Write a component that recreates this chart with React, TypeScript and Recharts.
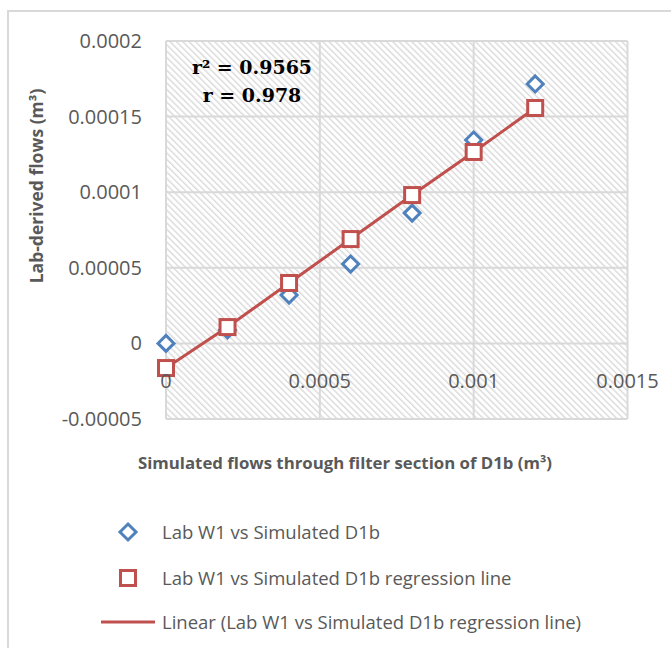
import React from 'react';
import { ScatterChart, Scatter, XAxis, YAxis, CartesianGrid } from 'recharts';

// ---- data ----
const simulatedFlows = [0, 0.0002, 0.0004, 0.0006, 0.0008, 0.001, 0.0012];
const labFlows = [0, 0.0000089, 0.000032, 0.0000525, 0.0000862, 0.0001345, 0.0001716];
const regressionFlows = [-0.0000163, 0.0000108, 0.00003995, 0.000069, 0.0000981, 0.0001266, 0.0001557];
const xTicks = [0, 0.0005, 0.001, 0.0015];
const xTickLabels = ['0', '0.0005', '0.001', '0.0015'];
const yTicks = [-0.00005, 0, 0.00005, 0.0001, 0.00015, 0.0002];
const yTickLabels = ['-0.00005', '0', '0.00005', '0.0001', '0.00015', '0.0002'];
const seriesNames = [
  'Lab W1 vs Simulated D1b',
  'Lab W1 vs Simulated D1b regression line',
  'Linear (Lab W1 vs Simulated D1b regression line)',
];
const xTitle = 'Simulated flows through filter section of D1b (m³)';
const yTitle = 'Lab-derived flows (m³)';
const statLines = ['r² = 0.9565', 'r = 0.978'];

// ---- layout ----
const W = 671;
const H = 648;
const PLOT_LEFT = 166;
const PLOT_TOP = 41;
const PLOT_RIGHT = 627.5;
const PLOT_BOTTOM = 419;
const X_DOMAIN: [number, number] = [0, 0.0015];
const Y_DOMAIN: [number, number] = [-0.00005, 0.0002];
const BLUE = '#4F81BD';
const RED = '#C0504D';
const GRID = '#d9d9d9';
const TEXT = '#595959';
const SANS = '"Open Sans", sans-serif';

const labData = simulatedFlows.map((x, i) => ({ x, y: labFlows[i] }));
const regData = simulatedFlows.map((x, i) => ({ x, y: regressionFlows[i] }));

const zeroY =
  PLOT_TOP + ((PLOT_BOTTOM - PLOT_TOP) * (Y_DOMAIN[1] - 0)) / (Y_DOMAIN[1] - Y_DOMAIN[0]);

const Diamond = (props: any) => {
  const { cx, cy } = props;
  const r = 8;
  return (
    <path
      d={`M${cx},${cy - r} L${cx + r},${cy} L${cx},${cy + r} L${cx - r},${cy} Z`}
      fill="#fff"
      stroke={BLUE}
      strokeWidth={3}
    />
  );
};

const Square = (props: any) => {
  const { cx, cy } = props;
  const s = 15;
  return <rect x={cx - s / 2} y={cy - s / 2} width={s} height={s} fill="#fff" stroke={RED} strokeWidth={3} />;
};

const XTick = (props: any) => {
  const { x, payload, index } = props;
  const i = xTicks.indexOf(payload.value);
  return (
    <text x={x} y={zeroY + 45} textAnchor="middle" fill={TEXT} fontSize={20} fontFamily={SANS}>
      {xTickLabels[i >= 0 ? i : index]}
    </text>
  );
};

const YTick = (props: any) => {
  const { y, payload, index } = props;
  const i = yTicks.indexOf(payload.value);
  return (
    <text x={PLOT_LEFT - 24} y={y + 7} textAnchor="end" fill={TEXT} fontSize={20} fontFamily={SANS}>
      {yTickLabels[i >= 0 ? i : index]}
    </text>
  );
};

export default function App() {
  return (
    <div style={{ position: 'absolute', left: 0, top: 0, width: W, height: H, background: '#fff', overflow: 'hidden' }}>
      <svg width={0} height={0} style={{ position: 'absolute' }}>
        <defs>
          <pattern id="hatch" patternUnits="userSpaceOnUse" width={4.5} height={4.5} patternTransform="rotate(-45)">
            <rect x={0} y={0} width={4.5} height={4.5} fill="#ffffff" />
            <rect x={0} y={0} width={1.4} height={4.5} fill="#dadada" />
          </pattern>
        </defs>
      </svg>
      {/* outer chart border */}
      <div
        style={{
          position: 'absolute',
          left: 7,
          top: 10,
          width: W,
          height: H,
          borderLeft: `2px solid ${GRID}`,
          borderTop: `2px solid ${GRID}`,
        }}
      />
      <div style={{ position: 'absolute', left: 0, top: 0 }}>
        <ScatterChart
          width={W}
          height={H}
          margin={{ top: PLOT_TOP, right: W - PLOT_RIGHT, bottom: 0, left: 0 }}
        >
          <CartesianGrid stroke={GRID} strokeWidth={2} fill="url(#hatch)" fillOpacity={1} />
          <XAxis
            type="number"
            dataKey="x"
            domain={X_DOMAIN}
            ticks={xTicks}
            axisLine={false}
            tickLine={false}
            tick={<XTick />}
            height={H - PLOT_BOTTOM}
          />
          <YAxis
            type="number"
            dataKey="y"
            domain={Y_DOMAIN}
            ticks={yTicks}
            axisLine={false}
            tickLine={false}
            tick={<YTick />}
            width={PLOT_LEFT}
          />
          <Scatter name={seriesNames[0]} data={labData} shape={<Diamond />} isAnimationActive={false} />
          <Scatter
            name={seriesNames[1]}
            data={regData}
            shape={<Square />}
            line={{ stroke: RED, strokeWidth: 3 }}
            lineType="joint"
            isAnimationActive={false}
          />
        </ScatterChart>
      </div>
      {/* overlay texts */}
      <svg width={W} height={H} style={{ position: 'absolute', left: 0, top: 0, pointerEvents: 'none' }}>
        <text x={252} y={74} textAnchor="middle" fontFamily='"DejaVu Serif", serif' fontWeight="bold" fontSize={19} fill="#000">
          {statLines[0]}
        </text>
        <text x={252} y={102} textAnchor="middle" fontFamily='"DejaVu Serif", serif' fontWeight="bold" fontSize={19} fill="#000">
          {statLines[1]}
        </text>
        <text x={345} y={469} textAnchor="middle" fontFamily={SANS} fontWeight="bold" fontSize={16.8} fill={TEXT}>
          {xTitle}
        </text>
        <text
          x={0}
          y={0}
          transform={`translate(43, 186) rotate(-90)`}
          textAnchor="middle"
          fontFamily={SANS}
          fontWeight="bold"
          fontSize={17.5}
          fill={TEXT}
        >
          {yTitle}
        </text>
        {/* legend */}
        <path d="M128,524 L136,532 L128,540 L120,532 Z" fill="#fff" stroke={BLUE} strokeWidth={3} />
        <text x={162} y={538.5} fontFamily={SANS} fontSize={18.5} fill={TEXT}>
          {seriesNames[0]}
        </text>
        <rect x={120.5} y={570.5} width={15} height={15} fill="#fff" stroke={RED} strokeWidth={3} />
        <text x={162} y={584.5} fontFamily={SANS} fontSize={18.5} fill={TEXT}>
          {seriesNames[1]}
        </text>
        <line x1={101} y1={622} x2={155} y2={622} stroke={RED} strokeWidth={3} />
        <text x={162} y={628.5} fontFamily={SANS} fontSize={18.5} fill={TEXT}>
          {seriesNames[2]}
        </text>
      </svg>
    </div>
  );
}
